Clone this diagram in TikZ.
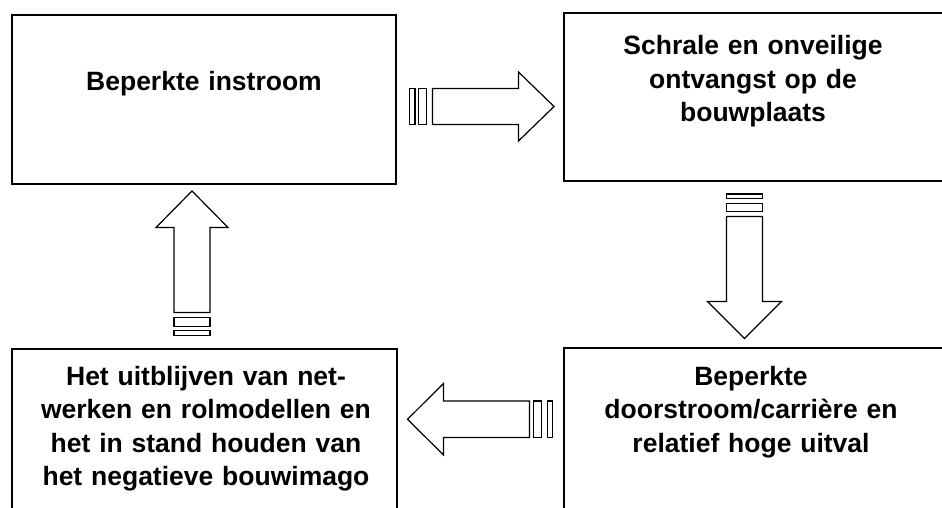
\documentclass[tikz,border=0pt]{standalone}
\usepackage{fontspec}
\setmainfont{Liberation Sans}
\begin{document}
\begin{tikzpicture}[x=1pt,y=-1pt,
  boxframe/.style={draw=black,line width=1.4pt,inner sep=0pt,outer sep=0pt},
  boxtext/.style={anchor=base,align=center,text width=380pt,inner sep=0pt,
    font=\fontsize{26.5pt}{33.5pt}\selectfont\bfseries},
  blockarrow/.style={draw=black,line width=1.2pt,fill=white,line join=miter}]
\useasboundingbox (0,0) rectangle (942,508);
\clip (0,0) rectangle (942,508);
% boxes
\draw[boxframe] (12,15) rectangle (396,184);
\draw[boxframe] (564,13) rectangle (946,181);
\draw[boxframe] (12,349) rectangle (397,520);
\draw[boxframe] (564,348) rectangle (946,520);
% texts
\node[boxtext] (t1) at (204,91) {Beperkte instroom};
\node[boxtext] (t2) at (753,55) {Schrale en onveilige\\ontvangst op de\\bouwplaats};
\node[boxtext] (t3) at (751,385) {Beperkte\\doorstroom/carrière en\\relatief hoge uitval};
\node[boxtext] (t4) at (206,385) {Het uitblijven van net-\\werken en rolmodellen en\\het in stand houden van\\het negatieve bouwimago};
% right arrow
\draw[blockarrow] (409.5,88.5) rectangle (415,124.5);
\draw[blockarrow] (418.5,88.5) rectangle (426.5,124.5);
\draw[blockarrow] (432.5,88.5) -- (518.5,88.5) -- (518.5,72) -- (554,106.5)
  -- (518.5,141) -- (518.5,124.5) -- (432.5,124.5) -- cycle;
% down arrow
\draw[blockarrow] (726.5,194) rectangle (762.5,198.5);
\draw[blockarrow] (726.5,203.5) rectangle (762.5,211.5);
\draw[blockarrow] (726.5,216.5) -- (726.5,301.5) -- (707.5,301.5) -- (744.5,338.5)
  -- (781.5,301.5) -- (762.5,301.5) -- (762.5,216.5) -- cycle;
% up arrow
\draw[blockarrow] (174,317.5) rectangle (210,326.5);
\draw[blockarrow] (174,330.5) rectangle (210,335.5);
\draw[blockarrow] (174,312.5) -- (174,227.5) -- (156,227.5) -- (192,191)
  -- (228,227.5) -- (210,227.5) -- (210,312.5) -- cycle;
% left arrow
\draw[blockarrow] (533.5,401) rectangle (541.5,437.5);
\draw[blockarrow] (547.5,401) rectangle (552.5,437.5);
\draw[blockarrow] (529.5,401) -- (443.5,401) -- (443.5,383.5) -- (407.5,419.3)
  -- (443.5,455) -- (443.5,437.5) -- (529.5,437.5) -- cycle;
\end{tikzpicture}
\end{document}
